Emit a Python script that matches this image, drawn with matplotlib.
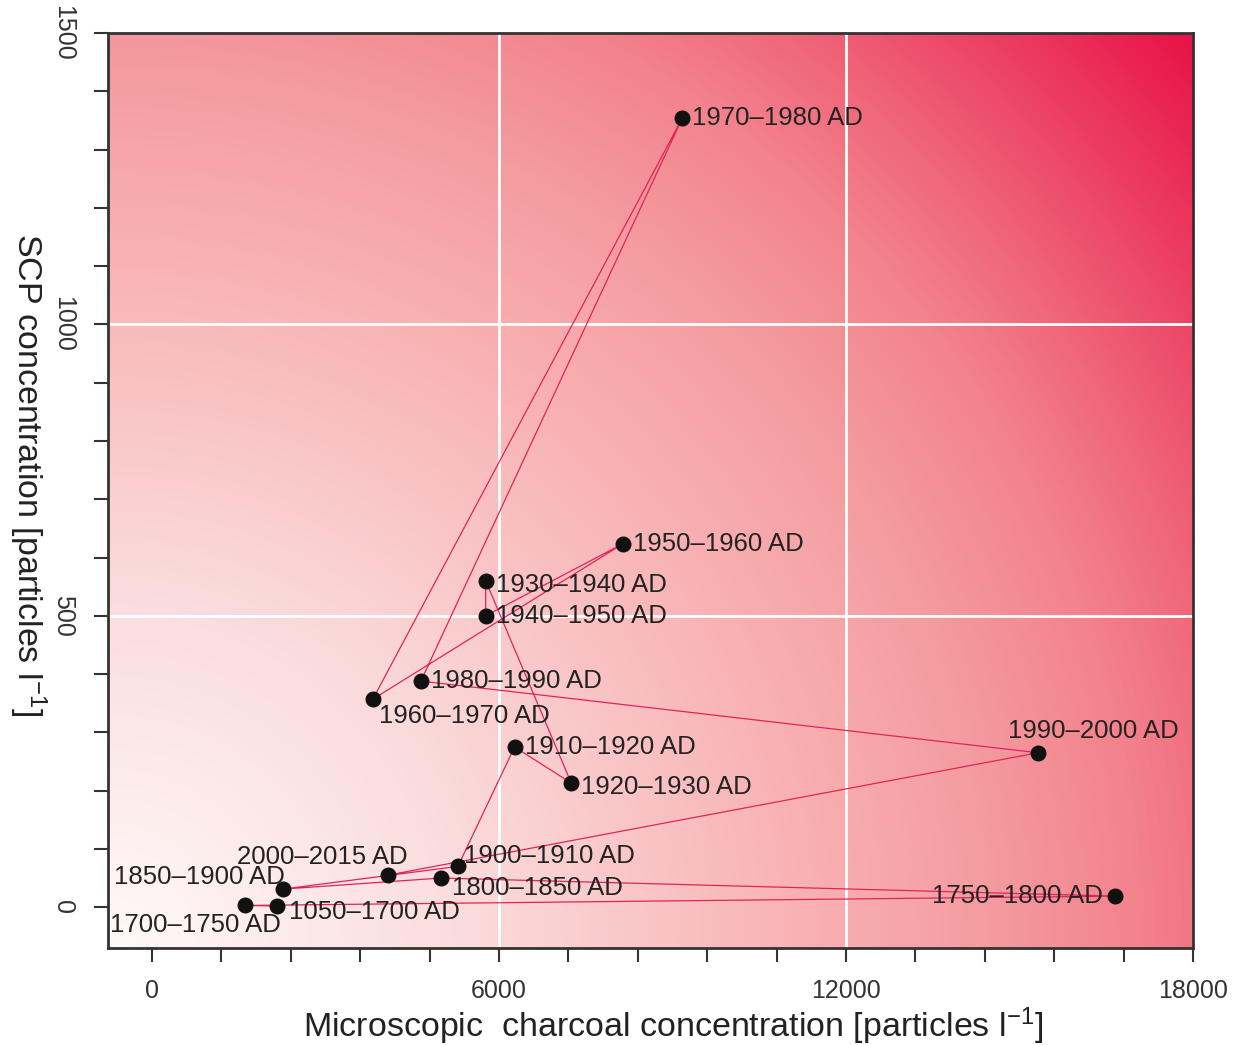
import numpy as np
import matplotlib
matplotlib.use("Agg")
import matplotlib.pyplot as plt
from matplotlib.colors import LinearSegmentedColormap
from matplotlib.ticker import MultipleLocator, FixedLocator

plt.rcParams['font.family'] = ['Liberation Sans', 'DejaVu Sans']
plt.rcParams['mathtext.fontset'] = 'custom'
plt.rcParams['mathtext.rm'] = 'Liberation Sans'
plt.rcParams['mathtext.it'] = 'Liberation Sans'

# periods in chronological order (line connects them in this order)
periods = ['1050\u20131700 AD', '1700\u20131750 AD', '1750\u20131800 AD', '1800\u20131850 AD',
           '1850\u20131900 AD', '1900\u20131910 AD', '1910\u20131920 AD', '1920\u20131930 AD',
           '1930\u20131940 AD', '1940\u20131950 AD', '1950\u20131960 AD', '1960\u20131970 AD',
           '1970\u20131980 AD', '1980\u20131990 AD', '1990\u20132000 AD', '2000\u20132015 AD']
charcoal = [2160, 1610, 16650, 4990, 2260, 5290, 6270, 7250,
            5770, 5770, 8150, 3820, 9170, 4650, 15320, 4080]
scp = [2, 3, 19, 50, 31, 70, 275, 213,
       560, 500, 624, 357, 1354, 388, 265, 55]

# label placement (offset in px, horizontal alignment)
offsets = [(12, -6, 'left'), (36, -20, 'right'), (-12, 0, 'right'), (11, -10, 'left'),
           (2, 12, 'right'), (6, 10, 'left'), (10, 0, 'left'), (10, -4, 'left'),
           (10, -4, 'left'), (10, 0, 'left'), (10, 0, 'left'), (6, -17, 'left'),
           (10, 0, 'left'), (10, 0, 'left'), (-30, 22, 'left'), (20, 18, 'right')]

W, H = 1236, 1045
fig = plt.figure(figsize=(W / 100, H / 100), dpi=100)
ax = fig.add_axes([108 / W, 1 - 948 / H, (1193 - 108) / W, (948 - 33) / H])

xlim = (-760, 18000)
ylim = (-70, 1500)

# background gradient, radial from lower-left corner
stops = [(0.0, (255, 249, 249)), (0.25, (251, 220, 220)), (0.51, (248, 174, 176)),
         (0.62, (244, 156, 160)), (0.73, (243, 130, 140)), (0.80, (240, 104, 122)),
         (1.0, (232, 18, 72))]
cmap = LinearSegmentedColormap.from_list('bg', [(s, tuple(c / 255 for c in col)) for s, col in stops])
pw, ph = 1085, 915
u = np.linspace(0, 1, 500)
v = np.linspace(0, 1, 500)
U, V = np.meshgrid(u, v)
T = np.sqrt((U * pw) ** 2 + (V * ph) ** 2) / np.hypot(pw, ph)
ax.imshow(T, cmap=cmap, origin='lower', extent=[*xlim, *ylim], aspect='auto',
          zorder=0, interpolation='bilinear', vmin=0, vmax=1)

for gx in [6000, 12000]:
    ax.axvline(gx, color='white', lw=2, zorder=1)
for gy in [500, 1000]:
    ax.axhline(gy, color='white', lw=2, zorder=1)

ax.plot(charcoal, scp, color='#e0245a', lw=0.9, zorder=2)
ax.plot(charcoal, scp, 'o', color='#111111', ms=10.5, zorder=3)

for name, x, y, (dx, dy, ha) in zip(periods, charcoal, scp, offsets):
    ax.annotate(name, (x, y), xytext=(dx * 0.72, dy * 0.72), textcoords='offset points',
                ha=ha, va='center', fontsize=18.5, color='#222222', zorder=4)

ax.set_xlim(*xlim)
ax.set_ylim(*ylim)
ax.set_xticks([0, 6000, 12000, 18000])
ax.xaxis.set_minor_locator(FixedLocator([m for m in range(1200, 18000, 1200) if m % 6000]))
ax.set_yticks([0, 500, 1000, 1500])
ax.yaxis.set_minor_locator(MultipleLocator(100))
ax.tick_params(which='both', direction='out', length=10, width=1.5, color='#333333',
               labelsize=18, labelcolor='#333333')
ax.tick_params(axis='x', which='major', pad=12)
ax.tick_params(axis='y', which='major', pad=14)
for lab in ax.get_yticklabels():
    lab.set_rotation(-90)
    lab.set_va('center')

for sp in ax.spines.values():
    sp.set_color('#333333')
    sp.set_linewidth(2)

ax.set_xlabel('Microscopic  charcoal concentration [particles l$^{-1}$]',
              fontsize=24.5, color='#222222', va='center')
ax.set_ylabel('SCP concentration [particles l$^{-1}$]', fontsize=24.5,
              color='#222222', rotation=-90, va='center')
ax.xaxis.set_label_coords(0.521, -0.085)
ax.yaxis.set_label_coords(-0.074, 0.517)

fig.savefig('out.png', dpi=100)
